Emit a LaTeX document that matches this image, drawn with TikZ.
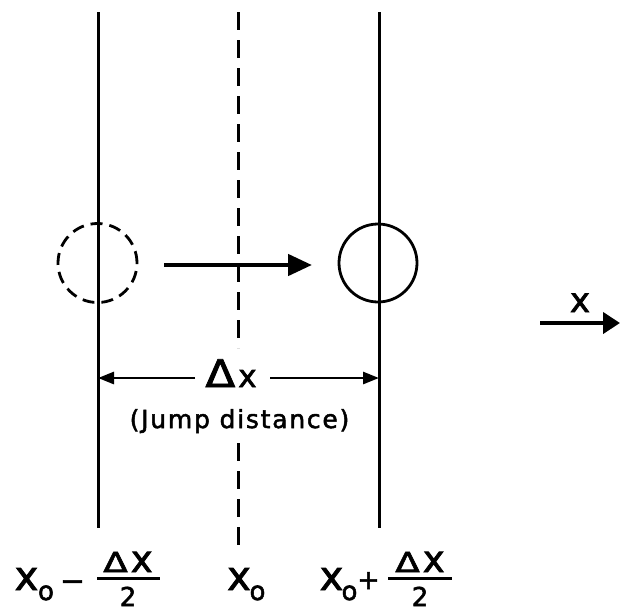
\documentclass[tikz,border=0pt]{standalone}
\usepackage{fontspec}
\usepackage{graphicx}
\setmainfont{DejaVu Sans}[FakeBold=2]
\newfontfamily\spaced[LetterSpace=7,FakeBold=2]{DejaVu Sans}
\usetikzlibrary{arrows.meta}
\newcommand\fsz[1]{\fontsize{#1}{#1}\selectfont}
\tikzset{
  vline/.style={line width=3pt},
  midline/.style={line width=3pt, dash pattern=on 18pt off 10pt},
  dimarrow/.style={line width=2.8pt, -{Triangle[length=16pt,width=12pt]}},
  bigarrow/.style={line width=4.6pt, -{Triangle[length=24pt,width=21pt]}},
  axisarrow/.style={line width=4pt, -{Triangle[length=17pt,width=21pt]}},
  lbl/.style={inner sep=0pt, anchor=base},
  fracbar/.style={line width=3pt},
}
\begin{document}
\begin{tikzpicture}[x=1pt,y=-1pt]
\useasboundingbox (0,0) rectangle (620,611);
% vertical lines
\coordinate (Ltop) at (98,12);  \coordinate (Lbot) at (98,528);
\coordinate (Rtop) at (379,12); \coordinate (Rbot) at (379,528);
\coordinate (Mtop) at (238.5,12); \coordinate (Mgap1) at (238.5,348);
\coordinate (Mgap2) at (238.5,443); \coordinate (Mbot) at (238.5,551);
\draw[vline] (Ltop) -- (Lbot);
\draw[vline] (Rtop) -- (Rbot);
\draw[midline] (Mtop) -- (Mgap1);
\draw[midline] (Mgap2) -- (Mbot);
% circles
\node[circle, draw, line width=2.8pt, dash pattern=on 12pt off 7pt, minimum size=79pt, inner sep=0pt] (oldpos) at (97.5,263) {};
\node[circle, draw, line width=2.8pt, minimum size=78pt, inner sep=0pt] (newpos) at (378,263) {};
% jump arrow
\coordinate (jumpA) at (164,265); \coordinate (jumpB) at (312,265);
\draw[bigarrow] (jumpA) -- (jumpB);
% dimension
\node[lbl] (dx) at (231,387) {\scalebox{1.15}[1]{\fsz{38}Δ}\kern3pt{\fsz{31}x}};
\coordinate (dimLin) at (195,378); \coordinate (dimL) at (98,378);
\coordinate (dimRin) at (270,378); \coordinate (dimR) at (379,378);
\draw[dimarrow] (dimLin) -- (dimL);
\draw[dimarrow] (dimRin) -- (dimR);
\node[lbl] (jump) at (239.5,428) {\spaced\fsz{25}(Jump distance)};
% x axis arrow
\coordinate (xaxA) at (540,323); \coordinate (xaxB) at (620,323);
\draw[axisarrow] (xaxA) -- (xaxB);
\node[lbl] (xlab) at (580,312) {\fsz{34}x};
% bottom labels: left
\node[lbl] (lx) at (26.5,590) {\fsz{40}x};
\node[lbl] (lo) at (46,600) {\fsz{26}o};
\node[lbl] (lminus) at (72.5,591) {\fsz{30}−};
\node[lbl] (lnum) at (128,572) {\scalebox{1.3}[1]{\fsz{27.5}Δ}\kern3pt{\fsz{37}x}};
\coordinate (lbarA) at (97,578); \coordinate (lbarB) at (160,578);
\draw[fracbar] (lbarA) -- (lbarB);
\node[lbl] (lden) at (128,606) {\fsz{26}2};
% middle
\node[lbl] (mx) at (239,590) {\fsz{40}x};
\node[lbl] (mo) at (257.5,600) {\fsz{26}o};
% right
\node[lbl] (rx) at (331.5,590) {\fsz{40}x};
\node[lbl] (ro) at (349.5,600) {\fsz{26}o};
\node[lbl] (rplus) at (368.5,589) {\fsz{27}+};
\node[lbl] (rnum) at (420,572) {\scalebox{1.3}[1]{\fsz{27.5}Δ}\kern3pt{\fsz{37}x}};
\coordinate (rbarA) at (388,578); \coordinate (rbarB) at (452,578);
\draw[fracbar] (rbarA) -- (rbarB);
\node[lbl] (rden) at (420,606) {\fsz{26}2};
\end{tikzpicture}
\end{document}
